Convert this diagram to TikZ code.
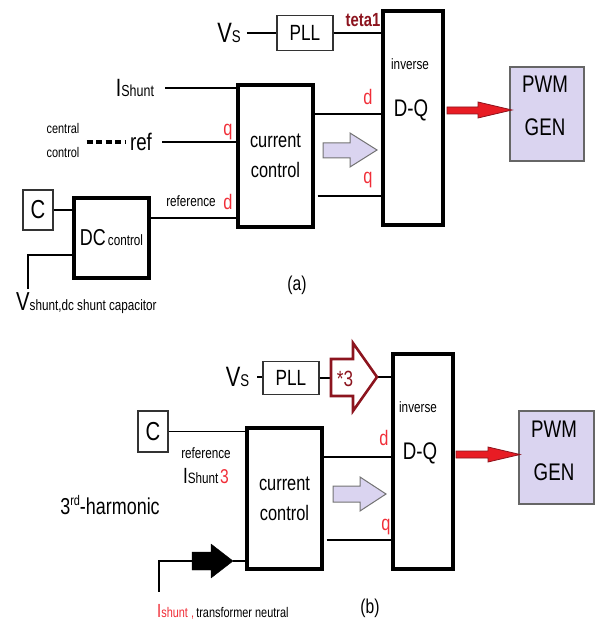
\documentclass[tikz,border=0pt]{standalone}
\usepackage{fontspec}
\setmainfont{Liberation Sans}[FakeStretch=0.78]
\definecolor{lav}{RGB}{218,212,240}
\definecolor{tetared}{RGB}{140,20,30}
\definecolor{labred}{RGB}{240,45,55}
\definecolor{fatred}{RGB}{232,28,36}
\newcommand\fs[1]{\fontsize{#1}{#1}\selectfont}
\tikzset{
  thinbox/.style={draw=black!80, line width=1.2pt, inner sep=0pt},
  thickbox/.style={draw, line width=3.2pt, inner sep=0pt},
  pwmbox/.style={draw=black!60, line width=1.5pt, fill=lav, inner sep=0pt},
  wire/.style={line width=1.2pt},
  lbl/.style={inner sep=0pt, text=labred},
  txt/.style={inner sep=0pt},
  cctext/.style={align=center, font={\fontsize{21}{30}\selectfont}},
  pwmtext/.style={txt, align=center, font={\fontsize{24}{43}\selectfont}},
  fatarrow/.style={fill=lav, draw=black!55, line width=1pt},
  redarrow/.style={fill=fatred, draw=tetared, line width=0.8pt},
}

\begin{document}
\begin{tikzpicture}[x=1pt, y=-1pt]
\useasboundingbox (0,0) rectangle (594,620);

% (a) Blocos
\node[thinbox, minimum width=56pt, minimum height=35pt] (plla) at (305,33) {\fs{22}PLL};
\node[thickbox, minimum width=60pt, minimum height=214pt] (inva) at (413,118) {};
\node[thickbox, minimum width=75pt, minimum height=142pt, cctext] (cca) at (275.5,156) {current\\control};
\node[pwmbox, minimum width=74pt, minimum height=94pt] (pwma) at (547,114) {};
\node[pwmtext] (pwmalbl) at (545,106) {PWM\\GEN};
\node[txt] (invatop) at (410,64) {\fs{15}inverse};
\node[txt] (invadq) at (411,110) {\fs{24}D-Q};
\node[thinbox, minimum width=30pt, minimum height=40pt] (ca) at (38,210) {\fs{26}C};
\node[thickbox, minimum width=75pt, minimum height=80pt] (dca) at (111.5,238) {{\fs{23}DC} {\fs{15}control}};

% (a) Textos
\node[txt] (vsa) at (229,33) {{\fs{28}V}{\fs{17}S}};
\node[txt, text=tetared] (tetaa) at (363,20) {\fs{19}\bfseries teta1};
\node[txt] (ishunta) at (135,88) {{\fs{25}I}{\fs{16}Shunt}};
\node[txt, align=center, font={\fontsize{14}{24}\selectfont}] (centrala) at (63,140) {central\\control};
\node[txt] (refa) at (141,142) {\fs{24}ref};
\node[lbl] (qa) at (228,132) {\fs{21}q};
\node[lbl] (da) at (228,202) {\fs{21}d};
\node[txt] (referencea) at (191,201) {\fs{15}reference};
\node[lbl] (dinva) at (368,97) {\fs{21}d};
\node[lbl] (qinva) at (368,180) {\fs{21}q};
\node[txt, anchor=base west] (vdca) at (16,310) {{\fs{26}V}{\fs{15}shunt,dc shunt capacitor}};
\node[txt] (capa) at (297,285) {\fs{20}(a)};

% (a) Ligacoes
\draw[wire, shorten <=6pt] (vsa.east) -- (vsa.east -| plla.west);
\draw[wire] (plla.east) -- (plla.east -| inva.west);
\draw[wire] (cca.east |- 0,114) -- (inva.west |- 0,114);
\draw[wire, shorten <=3pt] (cca.east |- 0,196) -- (inva.west |- 0,196);
\draw[wire, shorten <=11pt] (ishunta.east) -- (ishunta.east -| cca.west);
\draw[wire, shorten <=10pt] (refa.east) -- (refa.east -| cca.west);
\draw[line width=3.2pt, dash pattern=on 6pt off 3.5pt, shorten <=7pt, shorten >=4pt] (centrala.east |- refa.west) -- (refa.west);
\draw[wire] (ca.east) -- (ca.east -| dca.west);
\draw[wire] (dca.east |- 0,218) -- (cca.west |- 0,218);
\coordinate (vdctop) at (28,289);
\draw[wire] (dca.west |- 0,255) -| (vdctop);

% (a) Setas
\draw[fatarrow] (323,143) -- (350,143) -- (350,133) -- (377,150) -- (350,167) -- (350,158) -- (323,158) -- cycle;
\draw[redarrow] (447,107) -- (478,107) -- (478,102) -- (512,110) -- (478,118) -- (478,114) -- (447,114) -- cycle;

% (b) Blocos
\node[thinbox, minimum width=56pt, minimum height=33pt] (pllb) at (291,378) {\fs{22}PLL};
\node[thickbox, minimum width=60pt, minimum height=215pt] (invb) at (423,461.5) {};
\node[thickbox, minimum width=75pt, minimum height=141pt, cctext] (ccb) at (284.5,498.5) {current\\control};
\node[pwmbox, minimum width=75pt, minimum height=93pt] (pwmb) at (556.5,457.5) {};
\node[pwmtext] (pwmblbl) at (554,451) {PWM\\GEN};
\node[txt] (invbtop) at (418,407) {\fs{15}inverse};
\node[txt] (invbdq) at (420,453) {\fs{24}D-Q};
\node[thinbox, minimum width=30pt, minimum height=41pt] (cb) at (153,431.5) {\fs{26}C};

% (b) Textos
\node[txt] (vsb) at (237.5,377) {{\fs{28}V}{\fs{17}S}};
\node[txt] (referenceb) at (206,453) {\fs{15}reference};
\node[txt] (ishuntb) at (206,476) {{\fs{22}I}{\fs{15}Shunt}\,{\fs{20}\color{labred}3}};
\node[txt] (harmb) at (110,505) {\fs{23}3\raisebox{0.7ex}{\fs{14}rd}-harmonic};
\node[lbl] (dinvb) at (384,438) {\fs{21}d};
\node[lbl] (qinvb) at (386,527) {\fs{21}q};
\node[txt, text=tetared] (timesb) at (345,379) {\fs{22}*3};
\node[txt, anchor=base west] (ishunttb) at (157,617) {{\color{labred}{\fs{19}I}{\fs{14}shunt ,}} {\fs{14}transformer neutral}};
\node[txt] (capb) at (370,608) {\fs{20}(b)};

% (b) Ligacoes
\coordinate (startb) at (331,377);
\coordinate (tipb) at (377,377);
\draw[wire, shorten <=8pt] (vsb.east) -- (vsb.east -| pllb.west);
\draw[wire] (pllb.east) -- (pllb.east -| startb);
\draw[wire] (tipb) -- (tipb -| invb.west);
\draw[wire] (ccb.east |- 0,457) -- (invb.west |- 0,457);
\draw[wire, shorten <=3pt] (ccb.east |- 0,540) -- (invb.west |- 0,540);
\draw[wire] (cb.east) -- (cb.east -| ccb.west);
\coordinate (blkstart) at (192,561);
\coordinate (blktip) at (233,561);
\coordinate (ntend) at (159,592);
\draw[wire] (blktip) -- (blktip -| ccb.west);
\draw[wire] (blkstart) -| (ntend);

% (b) Setas
\draw[draw=tetared, line width=2.6pt, fill=none] (startb |- 0,359) -- (353,359) -- (353,343) -- (tipb) -- (353,411) -- (353,396) -- (startb |- 0,396) -- cycle;
\draw[fatarrow] (333,486) -- (360,486) -- (360,477) -- (386,494) -- (360,511) -- (360,502) -- (333,502) -- cycle;
\draw[redarrow] (456,451) -- (488,451) -- (488,447) -- (520,454.5) -- (488,462) -- (488,458) -- (456,458) -- cycle;
\draw[fill=black, line join=round] (192,552) -- (211,552) -- (211,544) -- (blktip) -- (211,578) -- (211,570) -- (192,570) -- cycle;
\end{tikzpicture}
\end{document}
